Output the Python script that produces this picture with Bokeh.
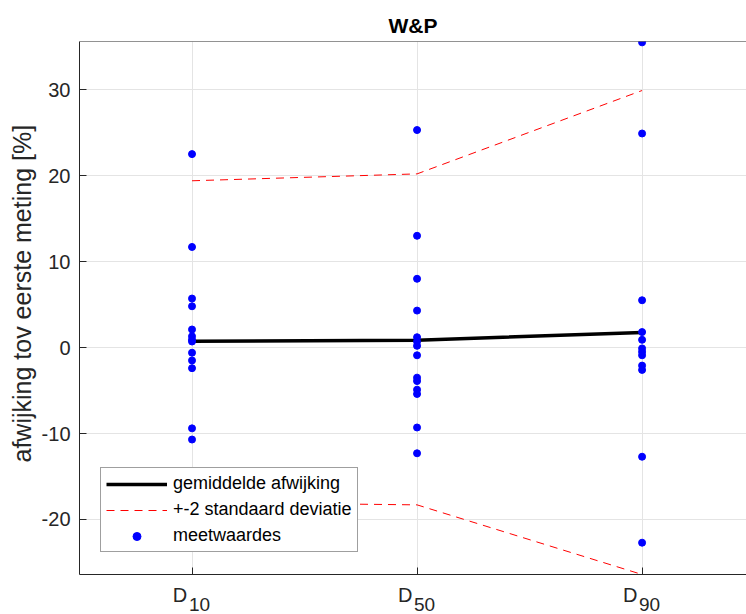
from bokeh.plotting import figure
from bokeh.models import (Range1d, FixedTicker, Legend, LegendItem, Span, LinearAxis, Title)
from bokeh.embed import file_html
from bokeh.resources import INLINE

# ---- data ----
categories = ["D10", "D50", "D90"]
cat_pos = [1, 2, 3]
tick_main = ["D", "D", "D"]
tick_sub = ["10", "50", "90"]

d10_values = [22.5, 11.7, 5.7, 4.8, 2.1, 1.3, 0.9, 0.7, -0.6, -1.5, -2.4, -9.4, -10.7]
d50_values = [25.3, 13.0, 8.0, 4.3, 1.2, 0.7, 0.2, -0.9, -3.5, -3.9, -4.9, -5.4, -9.3, -12.3]
d90_values = [35.5, 24.9, 5.5, 1.8, 0.9, -0.1, -0.5, -0.9, -2.1, -2.6, -12.7, -22.7]

mean_dev = [0.73, 0.85, 1.76]
upper_2sd = [19.4, 20.2, 29.9]
lower_2sd = [-18.0, -18.3, -26.4]

y_ticks = [-20, -10, 0, 10, 20, 30]

FONT = "Liberation Sans"
AX = "#262626"
RED = "#ff0000"

x_start, x_end = 0.5, 3.464
y_start, y_end = -26.4, 35.6

p = figure(width=746, height=614, output_backend="svg", toolbar_location=None,
           x_range=Range1d(x_start, x_end), y_range=Range1d(y_start, y_end),
           min_border_left=79, min_border_right=0, min_border_top=41,
           min_border_bottom=40)

p.outline_line_color = None
p.background_fill_color = "white"
p.border_fill_color = "white"

# title
p.title.text = "W&P"
p.title.align = "center"
p.title.text_font = FONT
p.title.text_font_size = "21px"
p.title.text_font_style = "bold"
p.title.text_color = "black"
p.title.standoff = 9

# grid
p.xgrid.ticker = FixedTicker(ticks=cat_pos)
p.ygrid.ticker = FixedTicker(ticks=y_ticks)
for g in (p.xgrid, p.ygrid):
    g.grid_line_color = "#e4e4e4"
    g.grid_line_width = 1

# main axes
p.yaxis.ticker = FixedTicker(ticks=y_ticks)
p.yaxis.major_label_overrides = {t: str(t) for t in y_ticks}
p.xaxis.ticker = FixedTicker(ticks=cat_pos)
p.xaxis.major_label_overrides = {c: "" for c in cat_pos}
p.xaxis.major_label_text_font_size = "0px"
p.xaxis.major_label_standoff = 0
for ax in (p.xaxis, p.yaxis):
    ax.axis_line_color = AX
    ax.axis_line_width = 1
    ax.major_tick_line_color = AX
    ax.major_tick_in = 7
    ax.major_tick_out = 0
    ax.minor_tick_line_color = None
    ax.major_label_text_font = FONT
    ax.major_label_text_color = AX
p.yaxis.major_label_text_font_size = "20px"
p.yaxis.major_label_standoff = 9

# y axis title (side title, placed slightly above centre like the original)
p.add_layout(Title(text="afwijking tov eerste meting [%]", align="left", offset=112,
                   text_font=FONT, text_font_size="25px", text_font_style="normal",
                   text_color=AX, standoff=5), "left")

# x tick labels "D" with lowered subscripts, via two label-only axes
p.extra_x_ranges = {
    "lab_main": Range1d(x_start + 0.053, x_end + 0.053),
    "lab_sub": Range1d(x_start - 0.033, x_end - 0.033),
}
ax_main = LinearAxis(x_range_name="lab_main", ticker=FixedTicker(ticks=cat_pos),
                     major_label_overrides=dict(zip(cat_pos, tick_main)),
                     axis_line_color=None, major_tick_line_color=None,
                     minor_tick_line_color=None, major_tick_out=0, major_tick_in=0,
                     major_label_standoff=9, major_label_text_font=FONT,
                     major_label_text_font_size="20px", major_label_text_color=AX)
ax_sub = LinearAxis(x_range_name="lab_sub", ticker=FixedTicker(ticks=cat_pos),
                    major_label_overrides=dict(zip(cat_pos, tick_sub)),
                    axis_line_color=None, major_tick_line_color=None,
                    minor_tick_line_color=None, major_tick_out=0, major_tick_in=0,
                    major_label_standoff=-11, major_label_text_font=FONT,
                    major_label_text_font_size="19px", major_label_text_color=AX)
p.add_layout(ax_main, "below")
p.add_layout(ax_sub, "below")

# top border line
p.add_layout(Span(location=y_end, dimension="width", line_color=AX, line_width=1))

# lines
r_mean = p.line(cat_pos, mean_dev, line_color="black", line_width=3.5)
r_up = p.line(cat_pos, upper_2sd, line_color=RED, line_width=1, line_dash="8 6")
r_lo = p.line(cat_pos, lower_2sd, line_color=RED, line_width=1, line_dash="8 6")

# points
xs, ys = [], []
for xpos, vals in zip(cat_pos, [d10_values, d50_values, d90_values]):
    xs += [xpos] * len(vals)
    ys += vals
r_pts = p.scatter(xs, ys, size=7, marker="circle", fill_color="#0000ff",
                  line_color="#0000ff")

legend = Legend(items=[
    LegendItem(label="gemiddelde afwijking", renderers=[r_mean]),
    LegendItem(label="+-2 standaard deviatie", renderers=[r_up]),
    LegendItem(label="meetwaardes", renderers=[r_pts]),
], location=(21, 22))
legend.label_text_font = FONT
legend.label_text_font_size = "18px"
legend.label_text_color = "black"
legend.glyph_width = 61
legend.glyph_height = 20
legend.label_height = 20
legend.label_standoff = 6
legend.padding = 5
legend.spacing = 5
legend.margin = 0
legend.border_line_color = "#404040"
legend.border_line_width = 1
legend.background_fill_color = "white"
legend.background_fill_alpha = 1
p.add_layout(legend)

open("out.html", "w").write(file_html(p, INLINE))
